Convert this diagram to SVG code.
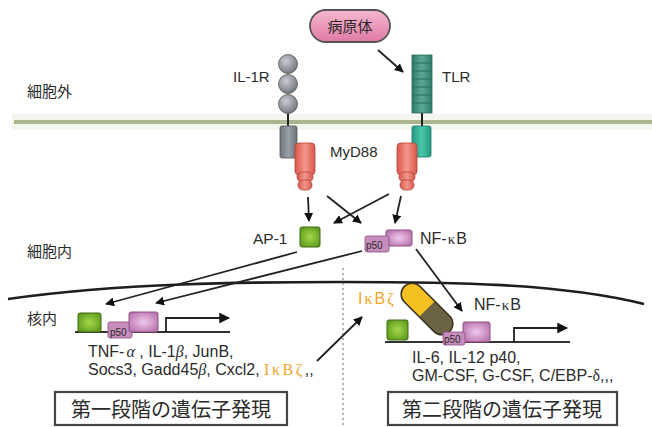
<svg xmlns="http://www.w3.org/2000/svg" width="652" height="427" viewBox="0 0 652 427">
  <style>
    .t { font-family: "Liberation Sans", "Noto Sans CJK JP", sans-serif; fill: #2b2b2b; }
    .jp { font-family: "Noto Sans CJK JP", sans-serif; fill: #2b2b2b; }
    .gr { font-family: "Liberation Serif", serif; font-style: italic; }
    .kp { font-family: "Liberation Serif", serif; }
    .or { font-family: "Liberation Serif", serif; fill: #f2a62a; }
    .arrow { stroke: #222; stroke-width: 1.8; fill: none; marker-end: url(#ah); }
    .boxr { fill: none; stroke: #444; stroke-width: 2.2; }
  </style>
  <defs>
    <marker id="ah" viewBox="0 0 10 10" refX="9" refY="5" markerWidth="5" markerHeight="5" orient="auto" markerUnits="strokeWidth">
      <path d="M0,0 L10,5 L0,10 z" fill="#111"/>
    </marker>
    <marker id="ah2" viewBox="0 0 10 10" refX="9" refY="5" markerWidth="6" markerHeight="6" orient="auto" markerUnits="strokeWidth">
      <path d="M0,0 L10,5 L0,10 z" fill="#111"/>
    </marker>
    <radialGradient id="ball" cx="0.4" cy="0.35" r="0.7">
      <stop offset="0" stop-color="#c9cdd2"/>
      <stop offset="1" stop-color="#6d737b"/>
    </radialGradient>
    <linearGradient id="greyBox" x1="0" x2="1">
      <stop offset="0" stop-color="#6e747c"/>
      <stop offset="0.5" stop-color="#9aa0a8"/>
      <stop offset="1" stop-color="#6e747c"/>
    </linearGradient>
    <linearGradient id="redBox" x1="0" x2="1">
      <stop offset="0" stop-color="#d9574b"/>
      <stop offset="0.5" stop-color="#f4978b"/>
      <stop offset="1" stop-color="#d9574b"/>
    </linearGradient>
    <linearGradient id="tealBox" x1="0" x2="1">
      <stop offset="0" stop-color="#229b82"/>
      <stop offset="0.5" stop-color="#4cc7ab"/>
      <stop offset="1" stop-color="#229b82"/>
    </linearGradient>
    <linearGradient id="tlrBar" x1="0" x2="1">
      <stop offset="0" stop-color="#2f7e6c"/>
      <stop offset="0.5" stop-color="#5aa894"/>
      <stop offset="1" stop-color="#2f7e6c"/>
    </linearGradient>
    <radialGradient id="greenSq" cx="0.5" cy="0.5" r="0.6">
      <stop offset="0" stop-color="#a6d94a"/>
      <stop offset="1" stop-color="#5e9a1e"/>
    </radialGradient>
    <radialGradient id="pinkSq" cx="0.5" cy="0.5" r="0.6">
      <stop offset="0" stop-color="#f0c8ea"/>
      <stop offset="1" stop-color="#b873ae"/>
    </radialGradient>
    <linearGradient id="pill" x1="0" y1="0" x2="0" y2="1">
      <stop offset="0" stop-color="#f6b8d0"/>
      <stop offset="1" stop-color="#e07aa5"/>
    </linearGradient>
  </defs>

  <rect width="652" height="427" fill="#ffffff"/>

  <!-- plasma membrane -->
  <g id="membrane">
    <rect x="12" y="114" width="640" height="16" fill="#f3f6ec"/>
    <line x1="14" y1="122" x2="652" y2="122" stroke="#aab68f" stroke-width="4"/>
  </g>

  <!-- nuclear envelope -->
  <g id="nucleus">
    <path d="M8,299 C120,283 250,282 340,282 C450,282 560,283 644,304" fill="none" stroke="#1e1e1e" stroke-width="2.6"/>
    <line x1="343" y1="268" x2="343" y2="427" stroke="#9a9a9a" stroke-width="1.5" stroke-dasharray="2,3"/>
  </g>

  <!-- region labels -->
  <g id="labels">
    <text class="jp" x="27" y="97" font-size="15">細胞外</text>
    <text class="jp" x="27" y="257" font-size="15">細胞内</text>
    <text class="jp" x="27" y="324" font-size="15">核内</text>
  </g>

  <!-- pathogen -->
  <g id="pathogen">
    <rect x="310" y="10" width="80" height="32" rx="16" fill="url(#pill)" stroke="#555" stroke-width="1.8"/>
    <text class="jp" x="350" y="32" font-size="15" text-anchor="middle">病原体</text>
  </g>

  <!-- IL-1R receptor -->
  <g id="il1r">
    <line x1="288" y1="110" x2="288" y2="128" stroke="#222" stroke-width="2"/>
    <circle cx="288" cy="64" r="9.5" fill="url(#ball)" stroke="#555" stroke-width="0.8"/>
    <circle cx="288" cy="84" r="9.5" fill="url(#ball)" stroke="#555" stroke-width="0.8"/>
    <circle cx="288" cy="104" r="9.5" fill="url(#ball)" stroke="#555" stroke-width="0.8"/>
    <rect x="280" y="126" width="17" height="32" rx="2" fill="url(#greyBox)" stroke="#555" stroke-width="0.8"/>
    <text class="t" x="233" y="82" font-size="15">IL-1R</text>
  </g>

  <!-- TLR receptor -->
  <g id="tlr">
    <line x1="422" y1="110" x2="422" y2="128" stroke="#222" stroke-width="2"/>
    <rect x="412" y="55" width="20" height="58" fill="url(#tlrBar)" stroke="#2a6a5a" stroke-width="0.8"/>
    <g stroke="#2a6a5a" stroke-width="1">
      <line x1="412" y1="63" x2="432" y2="63"/>
      <line x1="412" y1="71" x2="432" y2="71"/>
      <line x1="412" y1="79" x2="432" y2="79"/>
      <line x1="412" y1="87" x2="432" y2="87"/>
      <line x1="412" y1="95" x2="432" y2="95"/>
      <line x1="412" y1="103" x2="432" y2="103"/>
    </g>
    <rect x="412" y="126" width="19" height="31" rx="2" fill="url(#tealBox)" stroke="#1f7a66" stroke-width="0.8"/>
    <text class="t" x="442" y="82" font-size="15">TLR</text>
  </g>

  <!-- MyD88 adaptors -->
  <g id="myd88">
    <rect x="295" y="143" width="20" height="32" rx="4" fill="url(#redBox)" stroke="#b84236" stroke-width="0.8"/>
    <rect x="297" y="172" width="16" height="10" rx="5" fill="url(#redBox)" stroke="#b84236" stroke-width="0.8"/>
    <rect x="298" y="180" width="14" height="10" rx="5" fill="url(#redBox)" stroke="#b84236" stroke-width="0.8"/>
    <rect x="397" y="143" width="20" height="32" rx="4" fill="url(#redBox)" stroke="#b84236" stroke-width="0.8"/>
    <rect x="399" y="172" width="16" height="10" rx="5" fill="url(#redBox)" stroke="#b84236" stroke-width="0.8"/>
    <rect x="400" y="180" width="14" height="10" rx="5" fill="url(#redBox)" stroke="#b84236" stroke-width="0.8"/>
    <text class="t" x="330" y="157" font-size="15">MyD88</text>
  </g>

  <!-- AP-1 -->
  <g id="ap1">
    <rect x="300" y="227" width="20" height="20" rx="2" fill="url(#greenSq)" stroke="#3f6b14" stroke-width="1"/>
    <text class="t" x="253" y="244" font-size="15.5">AP-1</text>
  </g>

  <!-- NF-kB (cytoplasm) -->
  <g id="nfkb">
    <rect x="386" y="230" width="26" height="16" rx="2" fill="url(#pinkSq)" stroke="#8e4f86" stroke-width="1"/>
    <rect x="365" y="236" width="24" height="16" rx="2" fill="#c68dbd" stroke="#8e4f86" stroke-width="0.8"/>
    <text class="t" x="366" y="249" font-size="10">p50</text>
    <text class="t" x="420" y="244" font-size="16">NF-<tspan class="kp" font-size="15" dx="1">κ</tspan><tspan dx="1">B</tspan></text>
  </g>

  <!-- primary response promoter -->
  <g id="promoter1">
    <line x1="75" y1="332" x2="230" y2="332" stroke="#333" stroke-width="2"/>
    <rect x="78" y="313" width="23" height="19" rx="2" fill="url(#greenSq)" stroke="#3f6b14" stroke-width="1"/>
    <rect x="108" y="322" width="24" height="16" rx="2" fill="#c68dbd" stroke="#8e4f86" stroke-width="0.8"/>
    <rect x="129" y="312" width="29" height="20" rx="2" fill="url(#pinkSq)" stroke="#8e4f86" stroke-width="1"/>
    <text class="t" x="110" y="336" font-size="10">p50</text>
    <path d="M166,332 V318 H229" fill="none" stroke="#222" stroke-width="1.8" marker-end="url(#ah2)"/>
    <text class="t" x="88" y="357" font-size="16">TNF-<tspan class="gr" dx="2">α</tspan> , IL-1<tspan class="gr">β</tspan>, JunB,</text>
    <text class="t" x="88" y="375" font-size="16">Socs3, Gadd45<tspan class="gr">β</tspan>, Cxcl2, <tspan class="or" letter-spacing="2.5">IκBζ</tspan>,,</text>
  </g>

  <!-- secondary response promoter -->
  <g id="promoter2">
    <line x1="385" y1="342" x2="570" y2="342" stroke="#333" stroke-width="2"/>
    <rect x="387" y="320" width="21" height="20" rx="2" fill="url(#greenSq)" stroke="#3f6b14" stroke-width="1"/>
    <rect x="463" y="322" width="27" height="20" rx="2" fill="url(#pinkSq)" stroke="#8e4f86" stroke-width="1"/>
    <g transform="rotate(45 427 309)">
      <rect x="395" y="298" width="64" height="22" rx="11" fill="#6b6444"/>
      <path d="M406,298 H427 V320 H406 A11,11 0 0 1 406,298 z" fill="#f5c121"/>
      <rect x="395" y="298" width="64" height="22" rx="11" fill="none" stroke="#3a3320" stroke-width="1.5"/>
    </g>
    <rect x="443" y="332" width="22" height="13" rx="2" fill="#c68dbd" stroke="#8e4f86" stroke-width="0.8"/>
    <text class="t" x="444" y="343" font-size="10">p50</text>
    <path d="M514,342 V328 H567" fill="none" stroke="#222" stroke-width="1.8" marker-end="url(#ah2)"/>
    <text class="or" x="358" y="304" font-size="16" letter-spacing="2" style="font-family:'Liberation Sans',sans-serif">I<tspan style="font-family:'Liberation Serif',serif">κ</tspan>B<tspan style="font-family:'Liberation Serif',serif">ζ</tspan></text>
    <text class="t" x="474" y="310" font-size="16">NF-<tspan class="kp" font-size="15" dx="1">κ</tspan><tspan dx="1">B</tspan></text>
    <text class="t" x="412" y="363" font-size="16">IL-6, IL-12 p40,</text>
    <text class="t" x="412" y="381" font-size="16">GM-CSF, G-CSF, C/EBP-<tspan class="kp">δ</tspan>,,,</text>
  </g>

  <!-- stage boxes -->
  <g id="stage1">
    <rect x="55" y="392" width="232" height="33" class="boxr"/>
    <text class="jp" x="171" y="417" font-size="20" text-anchor="middle">第一段階の遺伝子発現</text>
  </g>
  <g id="stage2">
    <rect x="388" y="392" width="229" height="33" class="boxr"/>
    <text class="jp" x="502" y="417" font-size="20" text-anchor="middle">第二段階の遺伝子発現</text>
  </g>

  <!-- connectors -->
  <g id="connectors">
    <line class="arrow" x1="378" y1="50" x2="403" y2="72"/>
    <line class="arrow" x1="308" y1="197" x2="309" y2="221"/>
    <line class="arrow" x1="327" y1="196" x2="361" y2="223"/>
    <line class="arrow" x1="389" y1="194" x2="334" y2="223"/>
    <line class="arrow" x1="401" y1="196" x2="395" y2="223"/>
    <line class="arrow" x1="297" y1="252" x2="106" y2="304"/>
    <line class="arrow" x1="362" y1="251" x2="156" y2="303"/>
    <line class="arrow" x1="416" y1="249" x2="462" y2="311"/>
    <line class="arrow" x1="317" y1="361" x2="362" y2="317"/>
  </g>
</svg>
